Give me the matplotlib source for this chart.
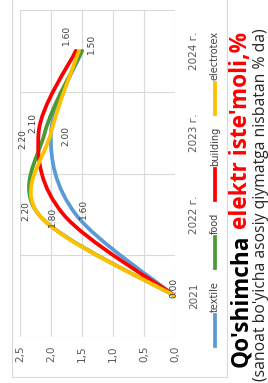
import numpy as np
import matplotlib
matplotlib.use('Agg')
import matplotlib.pyplot as plt
from matplotlib.path import Path
from matplotlib.patches import PathPatch
from matplotlib.lines import Line2D

# --- data ---
years = ['2021', '2022 г.', '2023 г.', '2024 г.']
series_names = ['textile', 'food', 'building', 'electrotex']
textile = [0.00, 1.60, 2.00, 1.50]
food = [0.00, 2.20, 2.10, 1.50]
building = [0.00, 1.80, 2.20, 1.60]
electrotex = [0.00, 2.20, 2.00, 1.55]
value_ticks = [0.0, 0.5, 1.0, 1.5, 2.0, 2.5]

# data labels that are visible in the picture: (series, year index)
shown_labels = [('electrotex', 0), ('electrotex', 1), ('building', 1), ('textile', 1),
                ('building', 2), ('food', 2), ('textile', 2),
                ('building', 3), ('textile', 3)]
label_offsets = [(-1, 8), (-13, 3), (-11, -3), (8, 5),
                 (-16, -6), (-12, 10), (15, -3),
                 (-9, 16), (9, 7)]

series = dict(zip(series_names, [textile, food, building, electrotex]))
colors = {'textile': '#5B9BD5', 'food': '#4C9A36', 'building': '#FF0000', 'electrotex': '#FFC000'}

W, H = 268, 383
narrow = ['Liberation Sans Narrow', 'DejaVu Sans']
plain = ['DejaVu Sans']
head = ['Open Sans', 'DejaVu Sans']


def fx(px):
    return px / W


def fy(py):
    return 1 - py / H


def smooth_path(vals):
    # Excel style smoothed line: Catmull-Rom through the points, as cubic Bezier
    pts = [(v, i) for i, v in enumerate(vals)]
    ext = [pts[0]] + pts + [pts[-1]]
    verts, codes = [pts[0]], [Path.MOVETO]
    for k in range(len(pts) - 1):
        p0, p1, p2, p3 = ext[k], ext[k + 1], ext[k + 2], ext[k + 3]
        c1 = (p1[0] + (p2[0] - p0[0]) / 6, p1[1] + (p2[1] - p0[1]) / 6)
        c2 = (p2[0] - (p3[0] - p1[0]) / 6, p2[1] - (p3[1] - p1[1]) / 6)
        verts += [c1, c2, p2]
        codes += [Path.CURVE4] * 3
    return Path(verts, codes)


fig = plt.figure(figsize=(W / 100, H / 100), dpi=100)
fig.patch.set_facecolor('white')

# chart drawn turned a quarter: values run right->left, years bottom->top
ax = fig.add_axes([fx(20), fy(337), fx(175) - fx(20), fy(10) - fy(337)])
ax.set_xlim(2.5, 0)
ax.set_ylim(-0.5, len(years) - 0.5)
for s in ax.spines.values():
    s.set_visible(False)

ax.set_xticks(value_ticks)
ax.set_xticklabels([f'{v:.1f}'.replace('.', ',') for v in value_ticks],
                   rotation=90, fontsize=7.5, color='#595959', family=narrow)
ax.set_yticks(range(len(years)))
ax.set_yticks(np.arange(-0.5, len(years), 1.0), minor=True)
ax.yaxis.tick_right()
ax.set_yticklabels(years, rotation=90, fontsize=7.5, color='#595959', family=narrow,
                   va='center')
ax.tick_params(axis='x', length=0, pad=6)
ax.tick_params(axis='y', which='both', length=0, pad=10)
ax.grid(axis='x', color='#d9d9d9', lw=0.8)
ax.grid(axis='y', which='minor', color='#d9d9d9', lw=0.8)

for name in series_names:
    ax.add_patch(PathPatch(smooth_path(series[name]), fill=False, edgecolor=colors[name],
                           lw=2.7, capstyle='round', joinstyle='round', zorder=3))

for (name, i), (dx, dy) in zip(shown_labels, label_offsets):
    v = series[name][i]
    ax.annotate(f'{v:.2f}', xy=(v, i), xytext=(dx, dy), textcoords='offset pixels',
                rotation=90, ha='center', va='center', fontsize=6.5, color='#404040',
                family=plain, zorder=4)

# chart frame
for xs, ys in [((12, 12), (0, 377)), ((12, 227), (377, 377)), ((227, 227), (0, 377))]:
    fig.add_artist(Line2D([fx(x) for x in xs], [fy(y) for y in ys], color='#d9d9d9', lw=0.8))

renderer = fig.canvas.get_renderer()

# legend, laid out upwards
pos = 346
for name in series_names:
    fig.add_artist(Line2D([fx(215), fx(215)], [fy(pos), fy(pos - 31)], color=colors[name], lw=2.7))
    pos -= 34
    t = fig.text(fx(215), fy(pos), name, rotation=90, rotation_mode='anchor', ha='left',
                 va='center', fontsize=7, color='#404040', family=plain)
    bb = t.get_window_extent(renderer)
    pos -= bb.height + 13


def text_run(pieces, x, y0, length, weight):
    # pieces laid end to end upwards, fontsize scaled to span `length` pixels
    fs = 10
    for step in range(2):
        pos = y0
        arts = []
        for txt, col in pieces:
            t = fig.text(fx(x), fy(pos), txt, rotation=90, rotation_mode='anchor', ha='left',
                         va='center', fontsize=fs, color=col, fontweight=weight, family=head)
            arts.append(t)
            pos -= t.get_window_extent(renderer).height + fs * 0.35
        total = y0 - pos - fs * 0.35
        if step == 0:
            for t in arts:
                t.remove()
            fs = fs * length / total


text_run([("Qo'shimcha", '#000000'), ("elektr iste'moli,%", '#FF0000')], 241, 367, 337, 'bold')
text_run([("(sanoat bo'yicha asosiy qiymatga nisbatan % da)", '#262626')], 261, 381, 352, 'normal')

fig.savefig('out.png', dpi=100)
